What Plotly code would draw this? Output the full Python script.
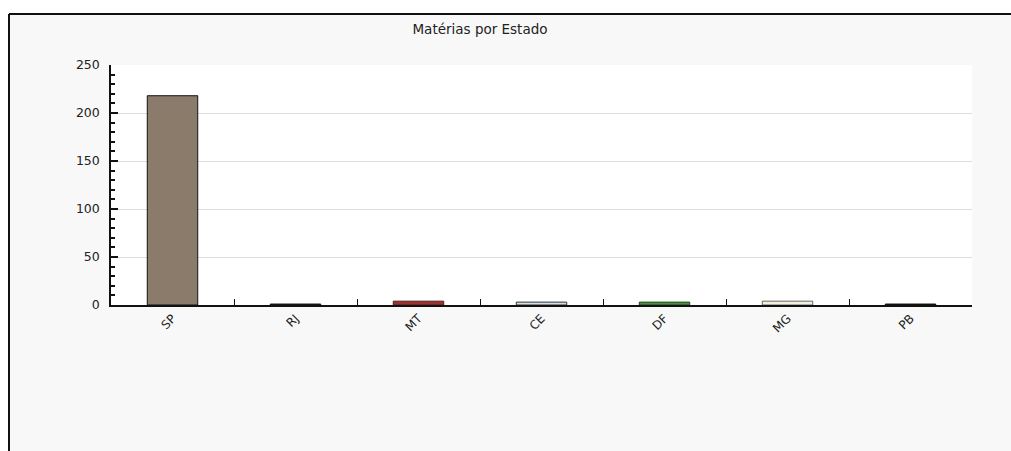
import plotly.graph_objects as go

estados = ["SP", "RJ", "MT", "CE", "DF", "MG", "PB"]
materias = [218, 1, 4, 3, 3, 4, 1]
cores = ["#8b7b6b", "#222222", "#983434", "#d5dfe8", "#4f8f45", "#f2efdc", "#111111"]
bordas = ["#111111", "#111111", "#5a1c1c", "#333333", "#1e4a1a", "#666666", "#111111"]
titulo = "Matérias por Estado"

W, H = 1011, 451
L, R, T, B = 111, 972, 65, 305
pw, ph = R - L, B - T

def px(x):
    return (x - L) / pw

def py(y):
    return (B - y) / ph

fig = go.Figure(go.Bar(
    x=estados, y=materias, width=0.41,
    marker=dict(color=cores, line=dict(color=bordas, width=1)),
    hoverinfo="x+y",
))

font = "DejaVu Sans, Verdana, sans-serif"

fig.update_layout(
    width=W, height=H,
    margin=dict(l=L, r=W - R, t=T, b=H - B, pad=0),
    paper_bgcolor="#ffffff",
    plot_bgcolor="#ffffff",
    showlegend=False,
    font=dict(family=font, size=12, color="#222222"),
    title=dict(text=titulo, x=480 / W, xanchor="center", xref="container",
               y=1 - 29 / H, yanchor="middle", yref="container",
               font=dict(family=font, size=13.5, color="#222222")),
    shapes=[
        dict(type="rect", xref="paper", yref="paper", layer="below",
             x0=px(9), x1=px(W + 5), y0=py(H + 5), y1=py(14),
             fillcolor="#f8f8f8", line=dict(width=0)),
        dict(type="rect", xref="paper", yref="paper", layer="below",
             x0=0, x1=1, y0=0, y1=1, fillcolor="#ffffff", line=dict(width=0)),
        dict(type="line", xref="paper", yref="paper",
             x0=px(9), x1=px(W + 5), y0=py(14), y1=py(14),
             line=dict(color="#111111", width=2)),
        dict(type="line", xref="paper", yref="paper",
             x0=px(9), x1=px(9), y0=py(14), y1=py(H + 5),
             line=dict(color="#111111", width=2)),
    ],
)

fig.update_xaxes(
    type="category", tickson="boundaries", ticks="inside", ticklen=6,
    tickcolor="#111111", tickwidth=1, tickangle=-45,
    showline=True, linecolor="#111111", linewidth=1.5,
    showgrid=False, tickfont=dict(size=12, color="#222222"),
    fixedrange=True,
)

fig.update_yaxes(
    range=[0, 250], dtick=50, tick0=0, ticks="inside", ticklen=7,
    tickcolor="#111111", tickwidth=1.5,
    minor=dict(dtick=10, ticks="inside", ticklen=4, tickcolor="#111111", showgrid=False),
    showline=True, linecolor="#111111", linewidth=1.5,
    showgrid=True, gridcolor="#dcdcdc", gridwidth=1,
    zeroline=False, ticklabelstandoff=7,
    tickfont=dict(size=12.5, color="#222222"),
    fixedrange=True,
)

fig.write_html(
    "out.html",
    config={"displayModeBar": False},
    post_script="document.body.style.margin='0';document.body.style.overflow='hidden';",
)
